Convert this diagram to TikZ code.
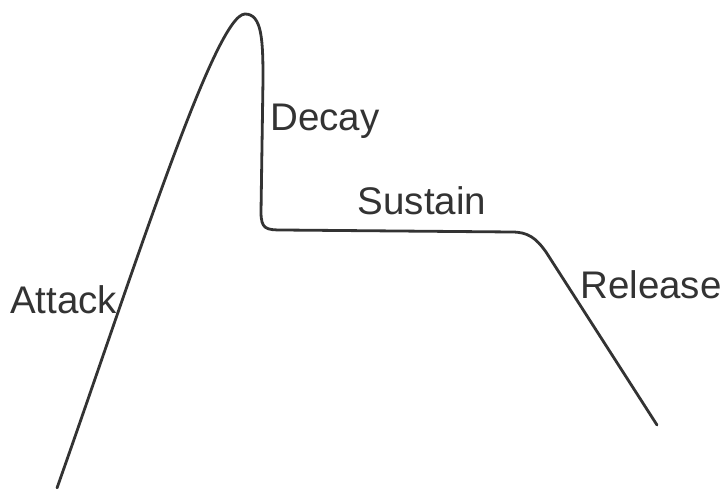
\documentclass[tikz,border=0pt]{standalone}
\usepackage{fontspec}
\setmainfont{Liberation Sans}
\usepackage{tikz}
\usetikzlibrary{positioning,calc}
\definecolor{inkCurve}{RGB}{51, 51, 51}
\definecolor{inkLabel}{RGB}{51, 51, 51}
\tikzset{
    phase/.style={inner sep=0pt, anchor=base, text=inkLabel, font=\fontsize{38.5pt}{41pt}\selectfont},
    envelope/.style={draw=inkCurve, line width=2.8pt, line join=round, line cap=round}
}

\begin{document}
\begin{tikzpicture}[x=1pt, y=-1pt]
    \useasboundingbox (0,0) rectangle (724,489);
    % envelope curve
    \draw[envelope] (57,488) .. controls (132,276) and (215,14) .. (245,14)
        .. controls (262,14) and (263,40) .. (263,80) -- (261,212)
        .. controls (261,229) and (266,230) .. (282,230) -- (512,232)
        .. controls (528,232) and (536,238) .. (546,252) -- (657,425);
    % phase labels
    \node[phase] (attack) at (63.5,314) {Attack};
    \node[phase] (decay) at (325,131) {Decay};
    \node[phase] (sustain) at (422,215) {Sustain};
    \node[phase] (release) at (651,299) {Release};
\end{tikzpicture}
\end{document}
